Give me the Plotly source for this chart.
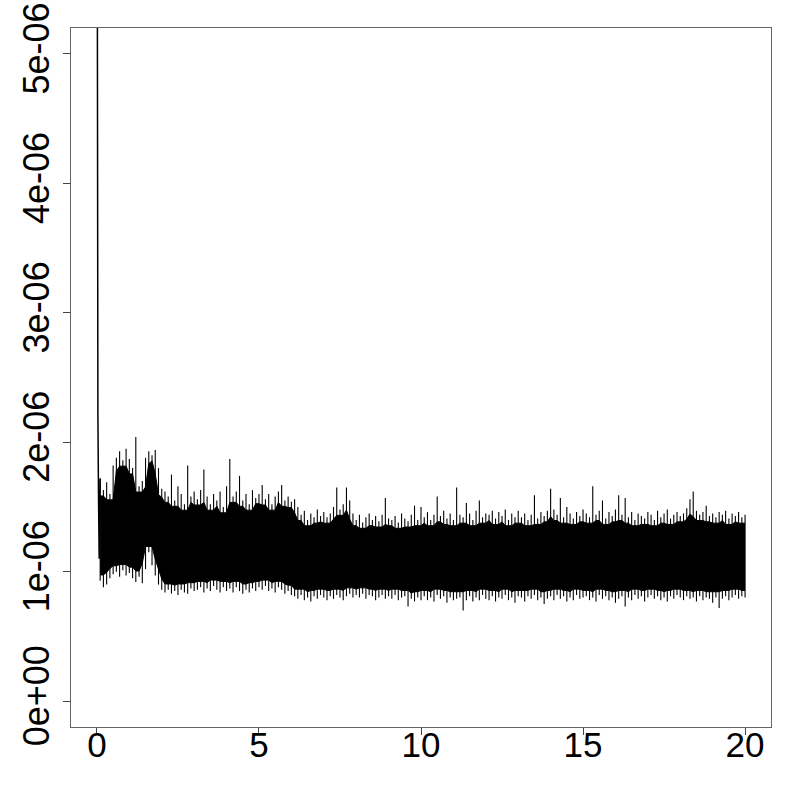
import plotly.graph_objects as go

# values in units of 1e-6
SCALE = 1e-6

# initial transient (spike at t ~ 0, runs off the top)
start_x = [0.0, 0.01, 0.02, 0.03, 0.05, 0.07, 0.1]
start_y = [8.0, 2.55, 7.0, 2.2, 1.55, 1.1, 1.72]

# envelope of the noisy band, read every 0.1 from 0.1 to 20.0
band_x = [round(0.1 * (i + 1), 1) for i in range(200)]

upper = [
    1.72, 1.63, 1.69, 1.60, 1.82, 1.88, 1.93, 1.86, 1.95, 1.87,
    1.80, 2.04, 1.66, 1.70, 1.88, 1.93, 1.90, 1.94, 1.80, 1.64,
    1.62, 1.58, 1.75, 1.55, 1.66, 1.60, 1.52, 1.82, 1.58, 1.62,
    1.56, 1.63, 1.79, 1.58, 1.52, 1.60, 1.55, 1.62, 1.50, 1.66,
    1.87, 1.58, 1.62, 1.74, 1.55, 1.60, 1.52, 1.63, 1.57, 1.60,
    1.67, 1.56, 1.60, 1.52, 1.58, 1.62, 1.67, 1.55, 1.58, 1.54,
    1.56, 1.50, 1.44, 1.47, 1.40, 1.45, 1.42, 1.48, 1.43, 1.46,
    1.42, 1.45, 1.50, 1.65, 1.48, 1.52, 1.65, 1.55, 1.45, 1.40,
    1.44, 1.38, 1.42, 1.45, 1.40, 1.43, 1.39, 1.44, 1.57, 1.41,
    1.40, 1.43, 1.38, 1.45, 1.41, 1.39, 1.44, 1.51, 1.40, 1.50,
    1.42, 1.46, 1.40, 1.44, 1.58, 1.43, 1.47, 1.41, 1.45, 1.40,
    1.65, 1.44, 1.42, 1.53, 1.45, 1.40, 1.47, 1.55, 1.42, 1.45,
    1.44, 1.47, 1.41, 1.46, 1.43, 1.48, 1.40, 1.45, 1.42, 1.47,
    1.42, 1.45, 1.40, 1.44, 1.59, 1.41, 1.46, 1.43, 1.47, 1.64,
    1.48, 1.44, 1.57, 1.42, 1.50, 1.45, 1.41, 1.46, 1.43, 1.48,
    1.45, 1.42, 1.66, 1.44, 1.47, 1.55, 1.41, 1.46, 1.43, 1.48,
    1.59, 1.44, 1.57, 1.42, 1.46, 1.40, 1.45, 1.43, 1.41, 1.46,
    1.44, 1.40, 1.47, 1.42, 1.45, 1.48, 1.41, 1.44, 1.46, 1.43,
    1.45, 1.49, 1.56, 1.62, 1.47, 1.44, 1.46, 1.51, 1.43, 1.45,
    1.42, 1.46, 1.44, 1.47, 1.41, 1.45, 1.43, 1.46, 1.42, 1.44,
]

lower = [
    0.93, 0.88, 0.90, 0.95, 0.98, 1.00, 0.96, 1.01, 0.97, 0.99,
    0.95, 0.92, 0.96, 0.91, 1.02, 1.15, 1.05, 0.97, 0.90, 0.86,
    0.84, 0.86, 0.83, 0.85, 0.82, 0.86, 0.84, 0.83, 0.87, 0.85,
    0.86, 0.88, 0.84, 0.87, 0.85, 0.89, 0.86, 0.84, 0.88, 0.85,
    0.87, 0.84, 0.88, 0.85, 0.83, 0.86, 0.84, 0.87, 0.85, 0.88,
    0.86, 0.89, 0.85, 0.87, 0.84, 0.88, 0.86, 0.83, 0.85, 0.82,
    0.81, 0.79, 0.82, 0.78, 0.80, 0.77, 0.81, 0.79, 0.82, 0.80,
    0.78, 0.81, 0.79, 0.82, 0.80, 0.78, 0.81, 0.83, 0.80, 0.82,
    0.80, 0.83, 0.79, 0.82, 0.81, 0.78, 0.80, 0.82, 0.79, 0.81,
    0.79, 0.82, 0.78, 0.80, 0.81, 0.73, 0.79, 0.77, 0.80, 0.78,
    0.81, 0.78, 0.80, 0.77, 0.82, 0.79, 0.81, 0.76, 0.80, 0.78,
    0.79, 0.80, 0.70, 0.78, 0.81, 0.77, 0.80, 0.78, 0.82, 0.79,
    0.78, 0.81, 0.77, 0.80, 0.79, 0.82, 0.78, 0.80, 0.76, 0.81,
    0.80, 0.77, 0.81, 0.79, 0.82, 0.78, 0.80, 0.75, 0.79, 0.81,
    0.78, 0.82, 0.79, 0.81, 0.77, 0.80, 0.78, 0.82, 0.79, 0.80,
    0.81, 0.78, 0.80, 0.77, 0.82, 0.79, 0.81, 0.78, 0.80, 0.76,
    0.79, 0.81, 0.73, 0.80, 0.78, 0.82, 0.79, 0.81, 0.77, 0.80,
    0.82, 0.79, 0.81, 0.78, 0.80, 0.77, 0.81, 0.79, 0.82, 0.80,
    0.78, 0.81, 0.79, 0.80, 0.77, 0.81, 0.78, 0.80, 0.79, 0.76,
    0.80, 0.72, 0.79, 0.81, 0.78, 0.80, 0.82, 0.79, 0.81, 0.80,
]

x_ticks = [0, 5, 10, 15, 20]
y_ticks = [0, 1, 2, 3, 4, 5]
y_labels = ["0e+00", "1e-06", "2e-06", "3e-06", "4e-06", "5e-06"]

n = len(band_x)
# solid core of the band sits a little inside the spike tips
FUZZ = 0.045
core_up = [min(upper[max(i - 1, 0):i + 2]) - FUZZ for i in range(n)]
core_lo = [max(lower[max(i - 1, 0):i + 2]) + FUZZ for i in range(n)]

# each reading drawn as a thin vertical stroke from its low to its high
seg_x, seg_y = [], []
for xv, lo, hi in zip(band_x, lower, upper):
    seg_x += [xv, xv, None]
    seg_y += [lo * SCALE, hi * SCALE, None]

fig = go.Figure()

fig.add_trace(go.Scatter(
    x=band_x, y=[v * SCALE for v in core_lo],
    mode="lines", line=dict(color="black", width=1),
    showlegend=False, hoverinfo="skip"
))
fig.add_trace(go.Scatter(
    x=band_x, y=[v * SCALE for v in core_up],
    mode="lines", line=dict(color="black", width=1),
    fill="tonexty", fillcolor="black",
    showlegend=False, hoverinfo="skip"
))
fig.add_trace(go.Scatter(
    x=seg_x, y=seg_y,
    mode="lines", line=dict(color="black", width=1.1),
    showlegend=False, hoverinfo="skip"
))
fig.add_trace(go.Scatter(
    x=start_x, y=[v * SCALE for v in start_y],
    mode="lines", line=dict(color="black", width=1.5),
    showlegend=False, hoverinfo="skip"
))

y_font = dict(family="Liberation Sans, Arial, sans-serif", size=36, color="black")
x_font = dict(family="Liberation Sans, Arial, sans-serif", size=35, color="black")

fig.update_layout(
    width=800, height=800,
    margin=dict(l=71, r=29, t=28, b=73, autoexpand=False),
    paper_bgcolor="white", plot_bgcolor="white",
    showlegend=False,
    xaxis=dict(
        range=[-0.8, 20.8], tickvals=x_ticks,
        ticks="outside", ticklen=7, tickcolor="#444",
        ticklabelstandoff=-20, ticklabeloverflow="allow",
        showline=True, linecolor="#666", linewidth=1, mirror=True,
        showgrid=False, zeroline=False, tickfont=x_font,
    ),
    yaxis=dict(
        range=[-0.2e-6, 5.2e-6],
        tickvals=[v * SCALE for v in y_ticks], ticktext=y_labels,
        tickangle=-90, ticklabeloverflow="allow",
        ticks="outside", ticklen=7, tickcolor="#444",
        showline=True, linecolor="#666", linewidth=1, mirror=True,
        showgrid=False, zeroline=False, tickfont=y_font,
    ),
)

# drop the browser's default 8px body margin so the figure fills the window
fig.write_html(
    "out.html",
    config={"displayModeBar": False},
    post_script="document.body.style.margin = '0';",
)
